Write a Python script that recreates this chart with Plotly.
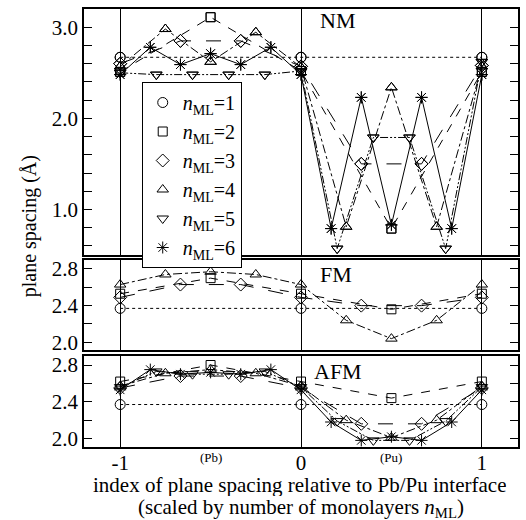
import plotly.graph_objects as go

# Plane index positions (scaled by number of monolayers)
X_N1 = [-1, 0, 1]
X_N2 = [-1, -1/2, 0, 1/2, 1]
X_N3 = [-1, -2/3, -1/3, 0, 1/3, 2/3, 1]
X_N4 = [-1, -3/4, -1/2, -1/4, 0, 1/4, 1/2, 3/4, 1]
X_N5 = [-1, -4/5, -3/5, -2/5, -1/5, 0, 1/5, 2/5, 3/5, 4/5, 1]
X_N6 = [-1, -5/6, -4/6, -3/6, -2/6, -1/6, 0, 1/6, 2/6, 3/6, 4/6, 5/6, 1]

# Non-magnetic plane spacings (Å)
NM_N1 = [2.67, 2.67, 2.67]
NM_N2 = [2.51, 3.11, 2.52, 0.79, 2.51]
NM_N3 = [2.60, 2.85, 2.85, 2.57, 1.50, 1.50, 2.58]
NM_N4 = [2.57, 2.98, 2.62, 2.945, 2.56, 0.81, 2.34, 0.81, 2.57]
NM_N5 = [2.50, 2.48, 2.48, 2.48, 2.48, 2.52, 0.57, 1.79, 1.79, 0.57, 2.62]
NM_N6 = [2.48, 2.78, 2.59, 2.71, 2.59, 2.78, 2.48, 0.79, 2.23, 0.83, 2.23, 0.79, 2.48]

# Ferromagnetic plane spacings (Å)
FM_N1 = [2.37, 2.37, 2.37]
FM_N2 = [2.53, 2.70, 2.53, 2.36, 2.53]
FM_N3 = [2.49, 2.63, 2.63, 2.49, 2.40, 2.40, 2.49]
FM_N4 = [2.63, 2.74, 2.77, 2.74, 2.63, 2.24, 2.04, 2.24, 2.63]

# Antiferromagnetic plane spacings (Å)
AFM_N1 = [2.37, 2.37, 2.37]
AFM_N2 = [2.62, 2.80, 2.62, 2.44, 2.62]
AFM_N3 = [2.55, 2.68, 2.68, 2.55, 2.16, 2.16, 2.55]
AFM_N4 = [2.57, 2.71, 2.75, 2.71, 2.57, 2.20, 2.01, 2.20, 2.57]
AFM_N5 = [2.56, 2.73, 2.70, 2.70, 2.73, 2.56, 2.19, 1.98, 1.98, 2.19, 2.56]
AFM_N6 = [2.53, 2.75, 2.70, 2.72, 2.70, 2.75, 2.53, 2.18, 1.98, 2.02, 1.98, 2.18, 2.53]

SERIES_LABELS = ["<i>n</i><sub>ML</sub>=%d" % k for k in range(1, 7)]

FONT = "Liberation Serif, Times New Roman, Times, serif"
W, H = 526, 520
L, R, T, B = 84, 6, 9, 73

# style per n_ML: (symbol, size, dash)
STYLE = [
    ("circle-open", 10, "dot"),
    ("square-open", 9, "dash"),
    ("diamond-open", 10, "longdash"),
    ("triangle-up-open", 10, "dashdot"),
    ("triangle-down-open", 10, "8px,2px,2px,2px,2px,2px"),
    ("asterisk-open", 10, "solid"),
]

X_ALL = [X_N1, X_N2, X_N3, X_N4, X_N5, X_N6]
PANELS = [
    ("y3", "x3", [NM_N1, NM_N2, NM_N3, NM_N4, NM_N5, NM_N6]),
    ("y2", "x2", [FM_N1, FM_N2, FM_N3, FM_N4]),
    ("y", "x", [AFM_N1, AFM_N2, AFM_N3, AFM_N4, AFM_N5, AFM_N6]),
]

fig = go.Figure()
for yax, xax, series in PANELS:
    for i, vals in enumerate(series):
        sym, size, dash = STYLE[i]
        fig.add_trace(go.Scatter(
            x=X_ALL[i], y=vals, xaxis=xax, yaxis=yax,
            mode="lines+markers", showlegend=False,
            line=dict(color="black", width=1, dash=dash),
            marker=dict(symbol=sym, size=size, color="black",
                        line=dict(color="black", width=1)),
        ))

# legend entries (markers only)
nm_series = PANELS[0][2]
for i, vals in enumerate(nm_series):
    sym, size, dash = STYLE[i]
    fig.add_trace(go.Scatter(
        x=X_ALL[i], y=vals, xaxis="x3", yaxis="y3",
        mode="markers", name=SERIES_LABELS[i], showlegend=True,
        marker=dict(symbol=sym, size=size, color="black",
                    line=dict(color="black", width=1)),
    ))

PH = H - T - B
PW = W - L - R


def ydom(top_px, bot_px):
    return [(H - B - bot_px) / PH, (H - B - top_px) / PH]


def px_x(px):
    return (px - L) / PW


def px_y(py):
    return (H - B - py) / PH


xcommon = dict(
    range=[-1.2, 1.2], tickvals=[-1, 0, 1], showgrid=True,
    gridcolor="black", gridwidth=1, zeroline=False,
    showline=True, linecolor="black", linewidth=1.5, mirror=True,
    ticks="",
)
ycommon = dict(
    showgrid=False, zeroline=False, showline=True, linecolor="black",
    linewidth=1.5, mirror="ticks", ticks="inside", ticklen=8,
    tickcolor="black", tickwidth=1, tickformat=".1f",
    tickfont=dict(family=FONT, size=21, color="black"),
)

fig.update_layout(
    width=W, height=H,
    margin=dict(l=L, r=R, t=T, b=B),
    plot_bgcolor="white", paper_bgcolor="white",
    font=dict(family=FONT, size=20, color="black"),
    xaxis=dict(**xcommon, anchor="y", ticktext=["-1", "0", "1"],
               showticklabels=True, ticklabelstandoff=-4,
               tickfont=dict(family=FONT, size=21, color="black")),
    xaxis2=dict(**xcommon, anchor="y2", matches="x", showticklabels=False),
    xaxis3=dict(**xcommon, anchor="y3", matches="x", showticklabels=False),
    yaxis=dict(**ycommon, domain=ydom(356, 447), range=[1.908, 2.898],
               tickvals=[2.0, 2.4, 2.8],
               minor=dict(tickvals=[2.2, 2.6], ticks="inside", ticklen=8,
                          tickcolor="black", tickwidth=1)),
    yaxis2=dict(**ycommon, domain=ydom(260, 350), range=[1.916, 2.898],
                tickvals=[2.0, 2.4, 2.8],
                minor=dict(tickvals=[2.2, 2.6], ticks="inside", ticklen=8,
                           tickcolor="black", tickwidth=1)),
    yaxis3=dict(**ycommon, domain=ydom(9, 255), range=[0.5, 3.2],
                tickvals=[1.0, 2.0, 3.0],
                minor=dict(dtick=0.2, tick0=0, ticks="inside", ticklen=8,
                           tickcolor="black", tickwidth=1)),
    legend=dict(
        x=px_x(142), y=px_y(82), xanchor="left", yanchor="top",
        bgcolor="white", bordercolor="black", borderwidth=1,
        font=dict(family=FONT, size=20, color="black"),
        itemwidth=30, tracegroupgap=0,
    ),
)

ann_font = dict(family=FONT, size=22, color="black")
annotations = [
    dict(text="NM", x=px_x(319), y=px_y(20.5), xref="paper", yref="paper",
         xanchor="left", yanchor="middle", showarrow=False, font=ann_font),
    dict(text="FM", x=px_x(319), y=px_y(274.5), xref="paper", yref="paper",
         xanchor="left", yanchor="middle", showarrow=False, font=ann_font),
    dict(text="AFM", x=px_x(313), y=px_y(371.5), xref="paper", yref="paper",
         xanchor="left", yanchor="middle", showarrow=False, font=ann_font),
    dict(text="(Pb)", x=-0.5, y=px_y(457), xref="x", yref="paper",
         xanchor="center", yanchor="middle", showarrow=False,
         font=dict(family=FONT, size=13, color="black")),
    dict(text="(Pu)", x=0.5, y=px_y(457), xref="x", yref="paper",
         xanchor="center", yanchor="middle", showarrow=False,
         font=dict(family=FONT, size=13, color="black")),
    dict(text="index of plane spacing relative to Pb/Pu interface",
         x=px_x(300), y=px_y(485), xref="paper", yref="paper",
         xanchor="center", yanchor="middle", showarrow=False, height=22,
         font=dict(family=FONT, size=21, color="black")),
    dict(text="(scaled by number of monolayers <i>n</i><sub>ML</sub>)",
         x=px_x(302), y=px_y(508), xref="paper", yref="paper",
         xanchor="center", yanchor="middle", showarrow=False,
         font=dict(family=FONT, size=21, color="black")),
    dict(text="plane spacing (Å)", x=px_x(30), y=px_y(226),
         xref="paper", yref="paper", xanchor="center", yanchor="middle",
         textangle=-90, showarrow=False,
         font=dict(family=FONT, size=20, color="black")),
]
fig.update_layout(annotations=annotations)

fig.write_html("out.html")
